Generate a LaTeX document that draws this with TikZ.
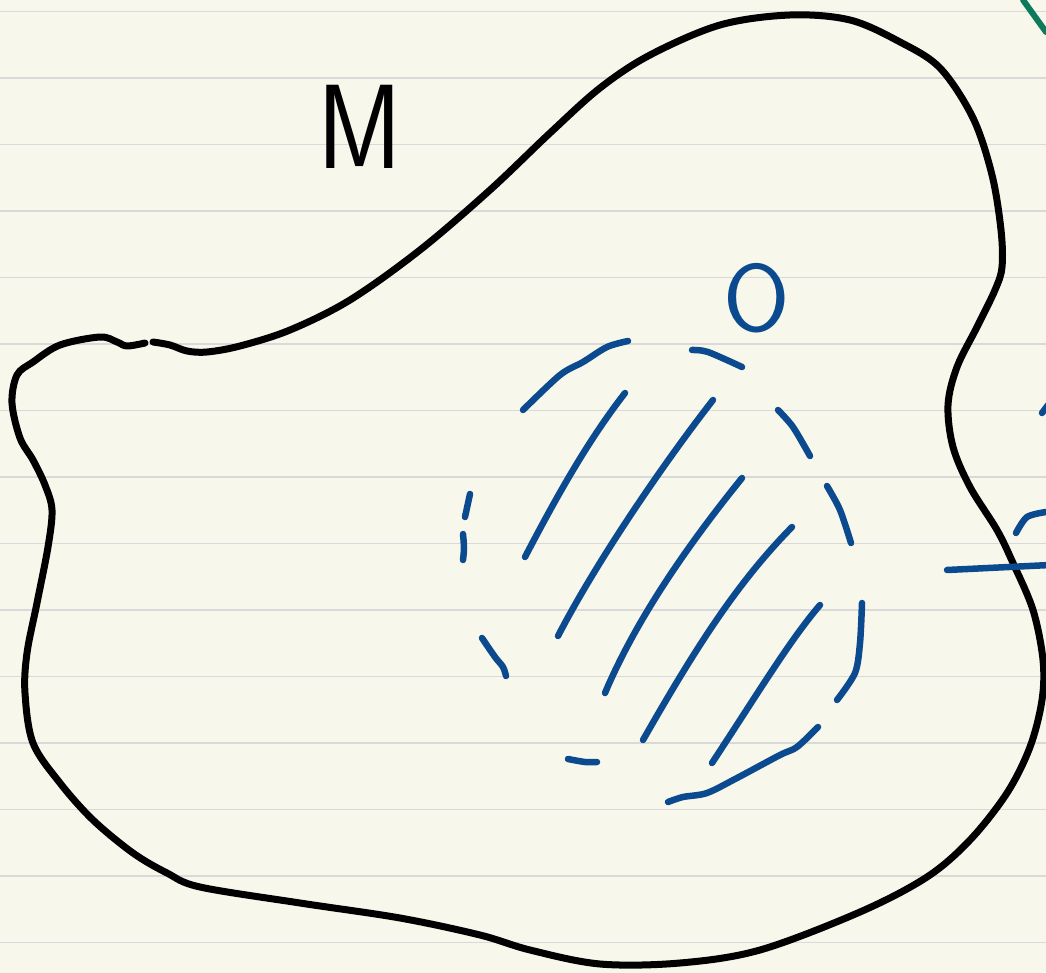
\documentclass[tikz,border=0pt]{standalone}
\usepackage{tikz}
\usetikzlibrary{calc}
\definecolor{paper}{HTML}{F8F7EB}
\definecolor{ruling}{HTML}{D9D9D9}
\definecolor{ink}{HTML}{0B4A8F}
\definecolor{greenink}{HTML}{0E7A5C}

\begin{document}
\begin{tikzpicture}[x=1pt,y=-1pt,
  outline/.style={line width=7pt,line cap=round,line join=round},
  pen/.style={ink,line width=6.5pt,line cap=round,line join=round},
  hand/.style={inner sep=0pt,font=\sffamily\fontsize{120}{120}\selectfont}]

\useasboundingbox (0,0) rectangle (1046,973);
\fill[paper] (0,0) rectangle (1046,973);
\clip (0,0) rectangle (1046,973);

\foreach \k in {0,...,14}
  \draw[ruling,line width=1.5pt] (0,{11.4+66.5*\k}) -- (1046,{11.4+66.5*\k});

% the manifold
\draw[outline] plot[smooth,tension=0.55] coordinates {
  (153,342) (170,345) (187,351) (207,352) (240,346) (290,330) (350,300)
  (420,250) (490,190) (550,133) (600,88) (650,55) (720,25) (790,15)
  (850,20) (900,42) (940,68) (973,118) (992,175) (1001,230) (1002,267)
  (995,290) (977,327) (957,367) (948,405) (953,447) (970,487) (997,530)
  (1013,563) (1033,610) (1043,660) (1042,700) (1030,747) (1007,793)
  (970,840) (927,877) (860,912) (760,950) (680,963) (600,964) (530,950)
  (480,935) (400,918) (300,903) (200,887) (167,873) (133,853) (93,820)
  (60,783) (33,743) (25,693) (27,653) (37,603) (48,547) (52,510) (45,485)
  (33,460) (20,438) (12,403) (17,375) (33,362) (60,345) (100,337)
  (117,342) (127,346) (145,343)};

\node[hand] (labelM) at (360,127) {\scalebox{0.86}[1]{M}};

% dashed boundary of the open set
\draw[pen] plot[smooth] coordinates {(523,410) (560,375) (583,362) (607,347) (628,341)};
\draw[pen] plot[smooth] coordinates {(692,350) (708,352) (742,367)};
\draw[pen] plot[smooth] coordinates {(778,410) (793,427) (810,456)};
\draw[pen] plot[smooth] coordinates {(827,486) (840,510) (851,543)};
\draw[pen] plot[smooth] coordinates {(862,603) (860,643) (855,673) (837,700)};
\draw[pen] plot[smooth] coordinates {(818,727) (797,747) (780,755) (737,778) (707,793) (683,797) (668,802)};
\draw[pen] plot[smooth] coordinates {(568,759) (585,762) (597,762)};
\draw[pen] plot[smooth] coordinates {(482,638) (495,657) (503,667) (506,676)};
\draw[pen] (470,494) -- (465,517);
\draw[pen] plot[smooth] coordinates {(463,534) (464,548) (463,560)};

% hatching
\draw[pen] (625,393) .. controls (590,438) and (560,490) .. (525,557);
\draw[pen] (713,400) .. controls (670,455) and (600,555) .. (558,636);
\draw[pen] (742,478) .. controls (700,530) and (640,610) .. (605,693);
\draw[pen] (792,527) .. controls (740,580) and (700,640) .. (643,740);
\draw[pen] (820,605) .. controls (790,640) and (760,690) .. (712,763);

\node[hand,text=ink,font=\sffamily\fontsize{96}{96}\selectfont] (labelO) at (757,298) {O};

% pieces reaching in from the right
\draw[pen] (1042,413) -- (1048,405);
\draw[pen] plot[smooth] coordinates {(1016,533) (1027,517) (1046,512)};
\draw[pen] (947,570) -- (1050,565);
\draw[greenink,line width=6pt,line cap=round] (1023,0) -- (1046,32);

\end{tikzpicture}
\end{document}
